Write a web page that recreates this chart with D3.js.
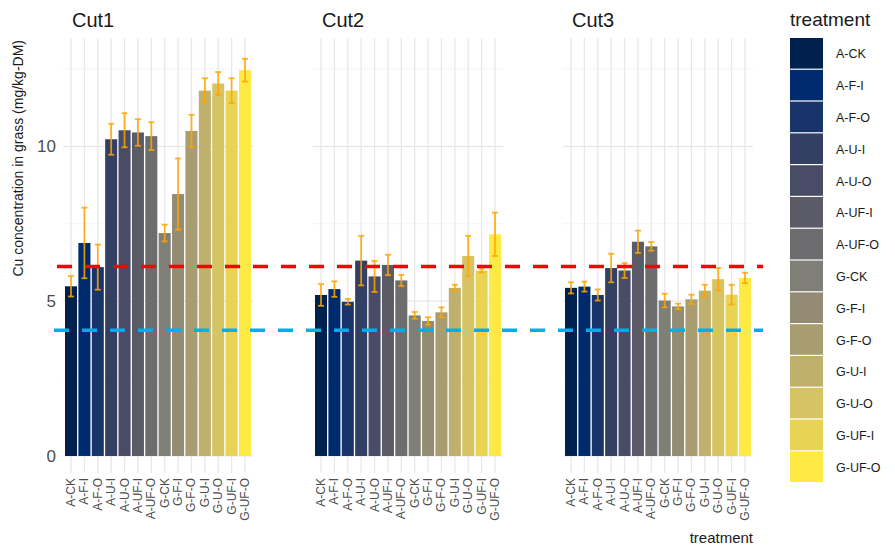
<!DOCTYPE html>
<html>
<head>
<meta charset="utf-8">
<script src="https://cdn.jsdelivr.net/npm/d3@7"></script>
<style>
  body { margin: 0; background: #fff; }
  svg { font-family: "Liberation Sans", Arial, sans-serif; }
</style>
</head>
<body>
<svg id="chart" width="895" height="549"></svg>
<script>
// data
const treatments = ["A-CK", "A-F-I", "A-F-O", "A-U-I", "A-U-O", "A-UF-I", "A-UF-O",
  "G-CK", "G-F-I", "G-F-O", "G-U-I", "G-U-O", "G-UF-I", "G-UF-O"];
const cuts = ["Cut1", "Cut2", "Cut3"];
const cut1Mean = [5.48, 6.88, 6.1, 10.23, 10.52, 10.45, 10.33, 7.2, 8.46, 10.5, 11.8, 12.03, 11.8, 12.46];
const cut1Err = [0.33, 1.14, 0.73, 0.5, 0.55, 0.43, 0.45, 0.27, 1.15, 0.52, 0.4, 0.37, 0.4, 0.37];
const cut2Mean = [5.2, 5.39, 4.98, 6.31, 5.8, 6.17, 5.67, 4.54, 4.36, 4.64, 5.43, 6.46, 5.99, 7.16];
const cut2Err = [0.35, 0.25, 0.09, 0.8, 0.5, 0.33, 0.18, 0.11, 0.12, 0.16, 0.1, 0.65, 0.06, 0.7];
const cut3Mean = [5.43, 5.47, 5.2, 6.07, 5.99, 6.92, 6.77, 5.02, 4.83, 5.06, 5.34, 5.71, 5.21, 5.75];
const cut3Err = [0.18, 0.16, 0.18, 0.46, 0.24, 0.36, 0.14, 0.22, 0.09, 0.15, 0.19, 0.36, 0.32, 0.17];
const refLines = [{ value: 6.12, color: "#FF0000" }, { value: 4.06, color: "#00AEEA" }];
const yTicks = [0, 5, 10];
const yMinor = [2.5, 7.5, 12.5];

const palette = ["#00204D", "#002A6E", "#18346A", "#343F64", "#484C66", "#5B5B67", "#6D6D6F",
  "#7F7E77", "#948B75", "#A89D71", "#BFB06C", "#D5C364", "#E9D355", "#FFE945"];

const means = [cut1Mean, cut2Mean, cut3Mean];
const errs = [cut1Err, cut2Err, cut3Err];

const svg = d3.select("#chart");
const panelW = 190, panelGap = 60, panelLeft = 63, panelTop = 38, panelBottom = 473;

const y = d3.scaleLinear().domain([-0.55, 13.5]).range([panelBottom, panelTop]);
const color = d3.scaleOrdinal().domain(treatments).range(palette);

cuts.forEach((cut, ci) => {
  const x0 = panelLeft + ci * (panelW + panelGap);
  const x = d3.scaleBand().domain(treatments).range([x0, x0 + panelW])
    .paddingInner(0.1).paddingOuter(0.15);
  const g = svg.append("g");

  // grid
  g.selectAll(".minor").data(yMinor).join("line")
    .attr("x1", x0).attr("x2", x0 + panelW)
    .attr("y1", d => y(d)).attr("y2", d => y(d))
    .attr("stroke", "#F3F3F3").attr("stroke-width", 0.8);
  g.selectAll(".major").data(yTicks).join("line")
    .attr("x1", x0).attr("x2", x0 + panelW)
    .attr("y1", d => y(d)).attr("y2", d => y(d))
    .attr("stroke", "#E8E8E8").attr("stroke-width", 1.3);
  g.selectAll(".vgrid").data(treatments).join("line")
    .attr("x1", d => x(d) + x.bandwidth() / 2).attr("x2", d => x(d) + x.bandwidth() / 2)
    .attr("y1", panelTop).attr("y2", panelBottom)
    .attr("stroke", "#E8E8E8").attr("stroke-width", 1.3);

  // bars
  const rows = treatments.map((t, i) => ({ t, m: means[ci][i], e: errs[ci][i] }));
  g.selectAll(".bar").data(rows).join("rect")
    .attr("x", d => x(d.t)).attr("width", x.bandwidth())
    .attr("y", d => y(d.m)).attr("height", d => y(0) - y(d.m))
    .attr("fill", d => color(d.t));

  // error bars
  const cap = 3;
  const eb = g.selectAll(".err").data(rows).join("g")
    .attr("stroke", "#FFA500").attr("stroke-opacity", 0.85).attr("stroke-width", 1.8);
  eb.append("line")
    .attr("x1", d => x(d.t) + x.bandwidth() / 2).attr("x2", d => x(d.t) + x.bandwidth() / 2)
    .attr("y1", d => y(d.m - d.e)).attr("y2", d => y(d.m + d.e));
  eb.append("line")
    .attr("x1", d => x(d.t) + x.bandwidth() / 2 - cap).attr("x2", d => x(d.t) + x.bandwidth() / 2 + cap)
    .attr("y1", d => y(d.m + d.e)).attr("y2", d => y(d.m + d.e));
  eb.append("line")
    .attr("x1", d => x(d.t) + x.bandwidth() / 2 - cap).attr("x2", d => x(d.t) + x.bandwidth() / 2 + cap)
    .attr("y1", d => y(d.m - d.e)).attr("y2", d => y(d.m - d.e));

  // strip title
  svg.append("text").attr("x", x0 + 9).attr("y", 27)
    .attr("font-size", 20).attr("fill", "#1A1A1A").text(cut);

  // x tick labels
  g.selectAll(".xlab").data(treatments).join("text")
    .attr("transform", d => `translate(${x(d) + x.bandwidth() / 2 + 4},${478}) rotate(-90)`)
    .attr("text-anchor", "end").attr("font-size", 12).attr("fill", "#4D4D4D")
    .text(d => d);
});

// y tick labels
svg.selectAll(".ylab").data(yTicks).join("text")
  .attr("x", 56).attr("y", d => y(d)).attr("dy", "0.36em")
  .attr("text-anchor", "end").attr("font-size", 17).attr("fill", "#4D4D4D")
  .text(d => d);

// reference lines
svg.selectAll(".ref").data(refLines).join("line")
  .attr("x1", (d, i) => i === 0 ? 57 : 54).attr("x2", 763)
  .attr("y1", d => y(d.value)).attr("y2", d => y(d.value))
  .attr("stroke", d => d.color).attr("stroke-width", 3.6)
  .attr("stroke-dasharray", "15,13");

// axis titles
svg.append("text")
  .attr("transform", "translate(23,40) rotate(-90)")
  .attr("text-anchor", "end").attr("font-size", 14).attr("fill", "#1A1A1A")
  .text("Cu concentration in grass (mg/kg-DM)");
svg.append("text").attr("x", 753).attr("y", 543)
  .attr("text-anchor", "end").attr("font-size", 15).attr("fill", "#1A1A1A")
  .text("treatment");

// legend
const lg = svg.append("g");
lg.append("text").attr("x", 790).attr("y", 26)
  .attr("font-size", 19).attr("fill", "#1A1A1A").text("treatment");
const step = 31.8;
lg.selectAll(".key").data(treatments).join("rect")
  .attr("x", 790).attr("y", (d, i) => 38 + i * step)
  .attr("width", 33).attr("height", step - 1.2)
  .attr("fill", d => color(d));
lg.selectAll(".klab").data(treatments).join("text")
  .attr("x", 836).attr("y", (d, i) => 38 + i * step + step / 2)
  .attr("dy", "0.36em").attr("font-size", 12.5).attr("fill", "#1A1A1A")
  .text(d => d);
</script>
</body>
</html>
